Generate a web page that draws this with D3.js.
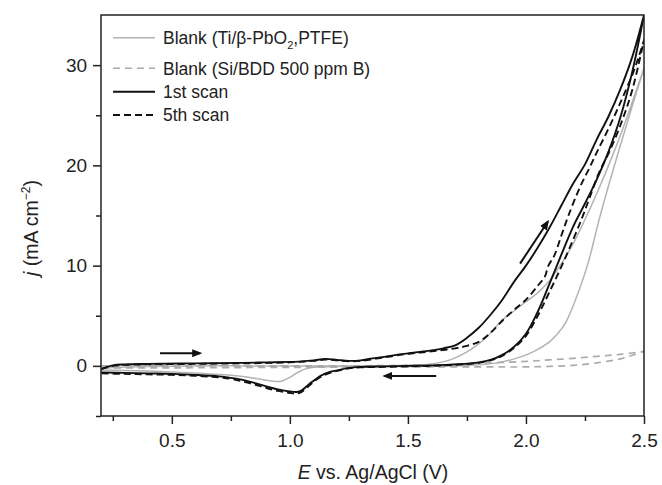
<!DOCTYPE html>
<html><head><meta charset="utf-8">
<script src="https://cdn.jsdelivr.net/npm/d3@7"></script>
<style>
html,body{margin:0;padding:0;background:#fff;}
svg text{font-family:"Liberation Sans",Arial,sans-serif;fill:#222;}
</style></head>
<body><svg id="c" width="662" height="485"></svg>
<script>
// ---- data (E in V vs Ag/AgCl, j in mA cm^-2) ----
const blankTiFwdE = [0.2,0.4,0.6,0.8,1.0,1.2,1.4,1.5,1.56,1.6,1.665,1.7,1.75,1.8,1.835,1.9,1.95,2.0,2.05,2.1,2.15,2.2,2.25,2.3,2.35,2.4,2.45,2.5];
const blankTiFwdJ = [-0.2,-0.05,0.0,0.0,0.0,0.0,0.0,0.05,0.1,0.2,0.5,0.8,1.4,2.2,2.9,4.6,5.5,6.4,7.3,8.5,10.2,12.2,14.6,17.2,20.0,23.0,26.3,29.7];
const blankTiRevE = [2.5,2.45,2.4,2.35,2.31,2.26,2.2,2.17,2.13,2.1,2.03,1.95,1.89,1.8,1.7,1.5,1.3,1.15,1.1,1.06,1.03,1.0,0.96,0.92,0.88,0.8,0.7,0.6,0.5,0.4,0.3,0.2];
const blankTiRevJ = [29.7,25.9,22.0,18.0,14.6,10.0,6.0,4.4,3.1,2.4,1.4,0.7,0.35,0.1,0.0,-0.05,-0.08,-0.08,-0.15,-0.35,-0.7,-1.15,-1.55,-1.5,-1.35,-1.05,-0.85,-0.72,-0.62,-0.52,-0.45,-0.4];

const blankBddFwdE = [0.2,0.5,1.0,1.5,1.7,1.85,2.0,2.1,2.2,2.3,2.4,2.5];
const blankBddFwdJ = [0.0,0.0,0.0,0.05,0.15,0.3,0.45,0.6,0.75,0.95,1.15,1.45];
const blankBddRevE = [2.5,2.45,2.4,2.3,2.2,2.1,2.0,1.8,1.5,1.0,0.5,0.2];
const blankBddRevJ = [1.45,1.05,0.7,0.3,0.05,-0.05,-0.1,-0.1,-0.1,-0.15,-0.2,-0.2];

const scan1FwdE = [0.2,0.25,0.3,0.4,0.6,0.8,0.9,1.0,1.05,1.1,1.15,1.2,1.25,1.3,1.35,1.4,1.45,1.5,1.55,1.6,1.65,1.7,1.75,1.8,1.85,1.9,1.95,2.0,2.05,2.1,2.15,2.2,2.25,2.3,2.35,2.4,2.45,2.5];
const scan1FwdJ = [-0.3,0.05,0.15,0.2,0.25,0.3,0.35,0.4,0.45,0.55,0.7,0.6,0.5,0.55,0.75,0.9,1.1,1.25,1.4,1.55,1.75,2.05,2.8,3.8,5.1,6.6,8.4,10.0,11.8,13.8,16.0,18.2,20.1,22.6,24.9,27.6,30.8,35];
const scan1RevE = [2.5,2.45,2.4,2.35,2.3,2.25,2.2,2.15,2.1,2.05,2.0,1.95,1.9,1.85,1.8,1.7,1.6,1.5,1.4,1.3,1.25,1.2,1.17,1.13,1.1,1.08,1.05,1.03,1.0,0.95,0.9,0.85,0.8,0.75,0.7,0.6,0.5,0.4,0.3,0.2];
const scan1RevJ = [35,29.3,24.8,21.4,18.6,16.2,13.9,11.1,8.2,5.4,3.2,1.9,1.1,0.6,0.35,0.15,0.05,0.0,-0.05,-0.1,-0.2,-0.45,-0.6,-1.0,-1.5,-1.85,-2.45,-2.6,-2.55,-2.35,-2.05,-1.7,-1.4,-1.2,-1.05,-0.9,-0.8,-0.75,-0.7,-0.65];

const scan5FwdE = [0.2,0.25,0.3,0.4,0.6,0.8,1.0,1.1,1.15,1.2,1.25,1.3,1.4,1.5,1.6,1.7,1.75,1.8,1.85,1.9,1.95,2.0,2.05,2.08,2.095,2.12,2.15,2.18,2.23,2.27,2.3,2.34,2.38,2.41,2.45,2.48,2.5];
const scan5FwdJ = [-0.35,0.0,0.1,0.15,0.2,0.25,0.35,0.5,0.62,0.55,0.45,0.5,0.85,1.2,1.45,1.75,2.0,2.4,3.3,4.5,5.6,6.6,8.0,8.9,10.0,11.0,13.0,15.0,17.9,19.8,21.3,23.2,25.2,26.8,29.0,31.0,32.5];
const scan5RevE = [2.5,2.45,2.4,2.35,2.31,2.27,2.24,2.2,2.15,2.1,2.05,2.0,1.95,1.9,1.85,1.8,1.7,1.6,1.5,1.4,1.3,1.25,1.2,1.17,1.13,1.1,1.08,1.05,1.03,1.0,0.95,0.9,0.85,0.8,0.75,0.7,0.6,0.5,0.4,0.3,0.2];
const scan5RevJ = [32.5,27.5,24.0,21.2,19.3,16.8,14.9,12.6,9.9,7.4,5.0,3.0,1.8,1.0,0.55,0.3,0.1,0.0,-0.05,-0.1,-0.15,-0.25,-0.5,-0.7,-1.1,-1.6,-2.0,-2.6,-2.75,-2.7,-2.5,-2.2,-1.85,-1.55,-1.3,-1.15,-1.0,-0.9,-0.85,-0.8,-0.75];

const legendLabels = ["Blank (Ti/β-PbO|2|,PTFE)", "Blank (Si/BDD 500 ppm B)", "1st scan", "5th scan"];
const xMajorTicks = [0.5,1.0,1.5,2.0,2.5];
const xMinorTicks = [0.25,0.75,1.25,1.75,2.25];
const yMajorTicks = [0,10,20,30];
const yMinorTicks = [-5,5,15,25];
// scan-direction arrows: [E0, j0, E1, j1]
const arrowFwd = [0.45,1.27,0.62,1.27];
const arrowRev = [1.62,-1.0,1.40,-1.0];
const arrowUp = [1.975,10.2,2.093,14.4];

// ---- drawing ----
const svg = d3.select("#c");
const L=101, R=644, T=15, B=416;
const x = d3.scaleLinear().domain([0.2,2.5]).range([L,R]);
const y = d3.scaleLinear().domain([-5,35]).range([B,T]);

svg.append("defs").append("clipPath").attr("id","clip")
  .append("rect").attr("x",L).attr("y",T).attr("width",R-L).attr("height",B-T);
svg.select("defs").append("marker").attr("id","ah").attr("viewBox","0 0 10 10")
  .attr("refX",8).attr("refY",5).attr("markerWidth",5).attr("markerHeight",5)
  .attr("orient","auto").attr("markerUnits","strokeWidth")
  .append("path").attr("d","M0,1 L10,5 L0,9 Z").attr("fill","#111");

const line = d3.line().x(d=>x(d[0])).y(d=>y(d[1])).curve(d3.curveCatmullRom.alpha(0.5));
function pts(e1,j1,e2,j2){ return e1.map((e,i)=>[e,j1[i]]).concat(e2.map((e,i)=>[e,j2[i]])); }

const series = [
  {d:pts(blankTiFwdE,blankTiFwdJ,blankTiRevE,blankTiRevJ), c:"#b3b3b3", w:1.5, dash:null},
  {d:pts(blankBddFwdE,blankBddFwdJ,blankBddRevE,blankBddRevJ), c:"#ababab", w:1.6, dash:"7,5"},
  {d:pts(scan1FwdE,scan1FwdJ,scan1RevE,scan1RevJ), c:"#111", w:1.9, dash:null},
  {d:pts(scan5FwdE,scan5FwdJ,scan5RevE,scan5RevJ), c:"#111", w:1.9, dash:"7,4"}
];
const g = svg.append("g").attr("clip-path","url(#clip)");
series.forEach(s=>{
  g.append("path").attr("d",line(s.d)).attr("fill","none").attr("stroke",s.c)
   .attr("stroke-width",s.w).attr("stroke-dasharray",s.dash).attr("stroke-linejoin","round");
});

// arrows
[arrowFwd,arrowRev,arrowUp].forEach(a=>{
  svg.append("line").attr("x1",x(a[0])).attr("y1",y(a[1])).attr("x2",x(a[2])).attr("y2",y(a[3]))
    .attr("stroke","#111").attr("stroke-width",2).attr("marker-end","url(#ah)");
});

// frame
svg.append("rect").attr("x",L).attr("y",T).attr("width",R-L).attr("height",B-T)
  .attr("fill","none").attr("stroke","#222").attr("stroke-width",1.5);

// axes
const xAx = svg.append("g").attr("transform",`translate(0,${B})`)
  .call(d3.axisBottom(x).tickValues(xMajorTicks).tickFormat(d3.format(".1f")).tickSize(8).tickSizeOuter(0));
svg.append("g").attr("transform",`translate(0,${B})`)
  .call(d3.axisBottom(x).tickValues(xMinorTicks).tickFormat("").tickSize(5).tickSizeOuter(0));
const yAx = svg.append("g").attr("transform",`translate(${L},0)`)
  .call(d3.axisLeft(y).tickValues(yMajorTicks).tickSize(8).tickSizeOuter(0));
svg.append("g").attr("transform",`translate(${L},0)`)
  .call(d3.axisLeft(y).tickValues(yMinorTicks).tickFormat("").tickSize(5).tickSizeOuter(0));
svg.selectAll(".domain").remove();
svg.selectAll(".tick line").attr("stroke","#222").attr("stroke-width",1.5);
xAx.selectAll("text").attr("font-size",19).attr("dy","1.05em").attr("fill","#222");
yAx.selectAll("text").attr("font-size",19).attr("dx","-0.15em").attr("fill","#222");
svg.selectAll(".tick text").attr("font-family","'Liberation Sans',Arial,sans-serif");

// axis titles
const xt = svg.append("text").attr("x",373).attr("y",479).attr("text-anchor","middle").attr("font-size",19.5);
xt.append("tspan").attr("font-style","italic").text("E");
xt.append("tspan").text(" vs. Ag/AgCl (V)");
const yt = svg.append("text").attr("transform","translate(38,228) rotate(-90)").attr("text-anchor","middle").attr("font-size",19.5);
yt.append("tspan").attr("font-style","italic").text("j");
yt.append("tspan").text(" (mA cm");
yt.append("tspan").attr("font-size",12).attr("dy",-8).text("−2");
yt.append("tspan").attr("dy",8).text(")");

// legend
const legY = [37.7,68.3,91.7,115];
series.forEach((s,i)=>{
  svg.append("line").attr("x1",113).attr("x2",155).attr("y1",legY[i]).attr("y2",legY[i])
    .attr("stroke",s.c).attr("stroke-width",s.w).attr("stroke-dasharray",s.dash);
  const t = svg.append("text").attr("x",163).attr("y",legY[i]+6.3).attr("font-size",17.5);
  const parts = legendLabels[i].split("|");
  parts.forEach((p,k)=>{
    if(k===1) t.append("tspan").attr("font-size",11).attr("dy",5).text(p);
    else if(k===2) t.append("tspan").attr("dy",-5).text(p);
    else t.append("tspan").text(p);
  });
});
</script></body></html>
